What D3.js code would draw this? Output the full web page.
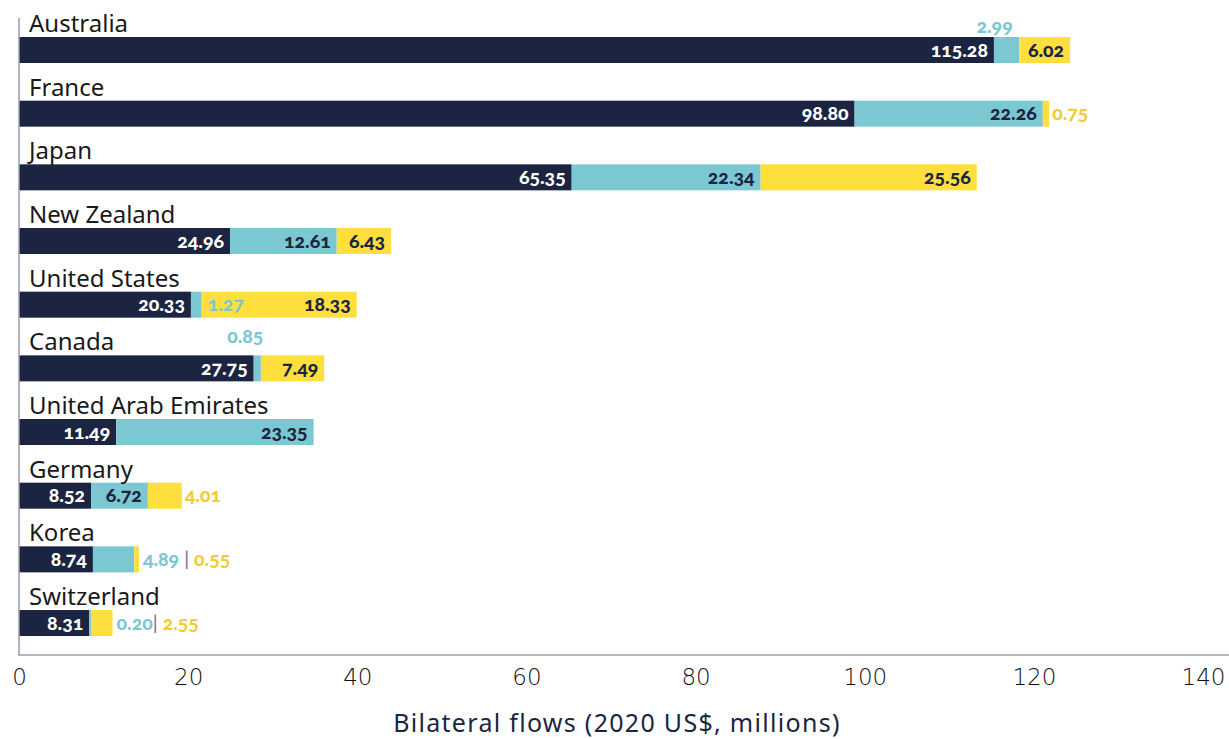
<!DOCTYPE html>
<html><head><meta charset="utf-8">
<script src="https://cdn.jsdelivr.net/npm/d3@7"></script>
<style>body{margin:0;background:#fff} svg{display:block}</style>
</head><body><svg id="c" width="1229" height="739"></svg>
<script>
const countries = ["Australia","France","Japan","New Zealand","United States","Canada","United Arab Emirates","Germany","Korea","Switzerland"];
const seriesA = [115.28,98.80,65.35,24.96,20.33,27.75,11.49,8.52,8.74,8.31];
const seriesB = [2.99,22.26,22.34,12.61,1.27,0.85,23.35,6.72,4.89,0.20];
const seriesC = [6.02,0.75,25.56,6.43,18.33,7.49,0,4.01,0.55,2.55];
const xTicks = [0,20,40,60,80,100,120,140];
const labelModeB = ["above","in","in","in","after","above","in","in","combo","combo"];
const labelModeC = ["in","after","in","in","in","in","none","after","combo","combo"];
const aboveLift = [2,0,0,0,0,10,0,0,0,0];
const comboSeparators = ["","","","","","","",""," | ","| "];
const axisTitle = "Bilateral flows (2020 US$, millions)";

const NAVY="#1b2541", TEAL="#7bc8d3", YELLOW="#ffdf3d", YELLOW_TXT="#f0cd38", AXIS="#9a9cb0";
const W=1229,H=739;
const svg=d3.select("#c");
const x=d3.scaleLinear().domain([0,140]).range([19,1203]);
const y=d3.scaleBand().domain(countries).range([10,10+63.67*10]);
const barOff=27, barH=26;

const rows=countries.map((c,i)=>({c,i,a:seriesA[i],b:seriesB[i],cc:seriesC[i]}));
const segs=[];
rows.forEach(r=>{
  segs.push({r,k:0,x0:0,x1:r.a,color:NAVY});
  segs.push({r,k:1,x0:r.a,x1:r.a+r.b,color:TEAL});
  segs.push({r,k:2,x0:r.a+r.b,x1:r.a+r.b+r.cc,color:YELLOW});
});
svg.append("g").selectAll("rect").data(segs.filter(s=>s.x1>s.x0)).join("rect")
  .attr("x",s=>x(s.x0)).attr("width",s=>x(s.x1)-x(s.x0))
  .attr("y",s=>y(s.r.c)+barOff).attr("height",barH).attr("fill",s=>s.color);

// country labels
svg.append("g").selectAll("text").data(rows).join("text")
  .attr("x",29).attr("y",r=>y(r.c)+barOff-5)
  .attr("font-family","'Noto Sans', sans-serif").attr("font-size",24).attr("fill","#1a1a1a")
  .text(r=>r.c);

// axes lines
svg.append("line").attr("x1",19).attr("x2",19).attr("y1",18).attr("y2",655).attr("stroke",AXIS).attr("stroke-width",1.5);
svg.append("line").attr("x1",18).attr("x2",W).attr("y1",655).attr("y2",655).attr("stroke",AXIS).attr("stroke-width",1.5);

// ticks
const xAxis=d3.axisBottom(x).tickValues(xTicks).tickSize(0).tickPadding(0).tickFormat(d3.format("d"));
const gx=svg.append("g").attr("transform","translate(0,685)").call(xAxis);
gx.select(".domain").remove();
gx.selectAll("text").attr("font-family","'DejaVu Sans', sans-serif").attr("font-weight",200).attr("font-size",23)
  .attr("fill","#111").attr("y",0).attr("dy",0);

svg.append("text").attr("x",617).attr("y",732).attr("text-anchor","middle")
  .attr("font-family","'Noto Sans', sans-serif").attr("font-size",25).attr("letter-spacing",1.3)
  .attr("fill",NAVY).text(axisTitle);

// value labels
const lg=svg.append("g").attr("font-family","Lato, sans-serif").attr("font-weight",900).attr("font-size",19.5)
  .style("font-variant-numeric","oldstyle-nums").style("white-space","pre");
const fmt=d3.format(".2f");
const baseY=r=>y(r.c)+barOff+barH/2+6.5;
rows.forEach(r=>{
  const ends=[r.a,r.a+r.b,r.a+r.b+r.cc];
  lg.append("text").attr("x",x(ends[0])-6).attr("y",baseY(r)).attr("text-anchor","end").attr("fill","#fff").text(fmt(r.a));
  const mb=labelModeB[r.i];
  if(mb==="in") lg.append("text").attr("x",x(ends[1])-6).attr("y",baseY(r)).attr("text-anchor","end").attr("fill",NAVY).text(fmt(r.b));
  else if(mb==="above") lg.append("text").attr("x",(x(ends[0])+x(ends[1]))/2-12).attr("y",y(r.c)+barOff-2-aboveLift[r.i]).attr("text-anchor","middle").attr("fill",TEAL).text(fmt(r.b));
  else if(mb==="after") lg.append("text").attr("x",x(ends[1])+6).attr("y",baseY(r)).attr("fill",TEAL).text(fmt(r.b));
  else if(mb==="combo"){
    const t=lg.append("text").attr("x",x(ends[2])+4).attr("y",baseY(r));
    t.append("tspan").attr("fill",TEAL).text(fmt(r.b));
    t.append("tspan").attr("fill","#6d7184").attr("font-weight",400).text(comboSeparators[r.i]);
    t.append("tspan").attr("fill",YELLOW_TXT).text(" "+fmt(r.cc));
  }
  const mc=labelModeC[r.i];
  if(mc==="in") lg.append("text").attr("x",x(ends[2])-6).attr("y",baseY(r)).attr("text-anchor","end").attr("fill",NAVY).text(fmt(r.cc));
  else if(mc==="after") lg.append("text").attr("x",x(ends[2])+3).attr("y",baseY(r)).attr("fill",YELLOW_TXT).text(fmt(r.cc));
});
</script></body></html>
